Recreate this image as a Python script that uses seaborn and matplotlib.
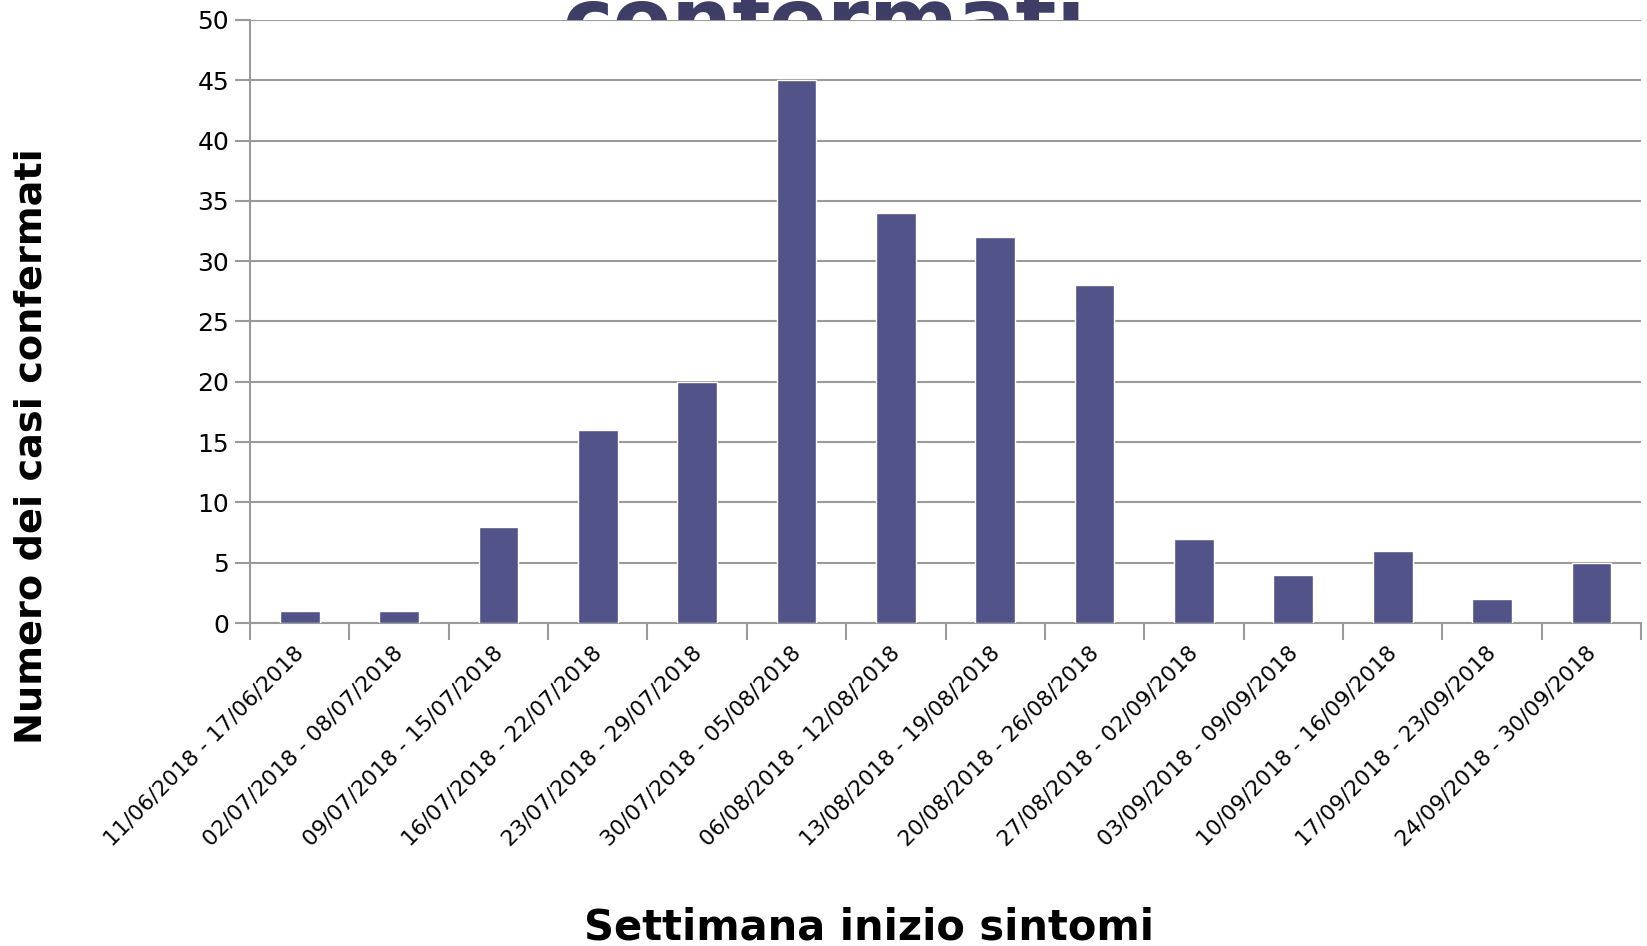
import matplotlib
matplotlib.use("Agg")
import matplotlib.pyplot as plt
import seaborn as sns
import numpy as np
import pandas as pd
from matplotlib.ticker import FixedLocator

weeks = [
    "11/06/2018 - 17/06/2018", "02/07/2018 - 08/07/2018", "09/07/2018 - 15/07/2018",
    "16/07/2018 - 22/07/2018", "23/07/2018 - 29/07/2018", "30/07/2018 - 05/08/2018",
    "06/08/2018 - 12/08/2018", "13/08/2018 - 19/08/2018", "20/08/2018 - 26/08/2018",
    "27/08/2018 - 02/09/2018", "03/09/2018 - 09/09/2018", "10/09/2018 - 16/09/2018",
    "17/09/2018 - 23/09/2018", "24/09/2018 - 30/09/2018",
]
cases = [1, 1, 8, 16, 20, 45, 34, 32, 28, 7, 4, 6, 2, 5]
y_ticks = [0, 5, 10, 15, 20, 25, 30, 35, 40, 45, 50]

sns.set_theme(style="white")
plt.rcParams['font.family'] = ['DejaVu Sans']
plt.rcParams['text.color'] = 'black'
plt.rcParams['xtick.color'] = 'black'
plt.rcParams['ytick.color'] = 'black'

df = pd.DataFrame({"week": weeks, "cases": cases})

fig = plt.figure(figsize=(16.47, 9.46), dpi=100)
ax = fig.add_axes([0.1518, 0.3414, 0.9964 - 0.1518, 0.9789 - 0.3414])
ax.set_facecolor("white")

grid_c = "#9a9a9a"
sns.barplot(data=df, x="week", y="cases", color="#525388", width=0.4,
            saturation=1, ax=ax, zorder=3)

ax.set_ylim(0, 50)
ax.set_xlim(-0.5, len(weeks) - 0.5)
ax.set_yticks(y_ticks)
ax.set_yticklabels([str(v) for v in y_ticks], fontsize=18, color="black")
for v in y_ticks:
    ax.axhline(v, color=grid_c, lw=1.5, zorder=1)

# label anchors nudged slightly left of the bar centres (major ticks are invisible)
ax.set_xticks(np.arange(len(weeks)) - 0.06)
ax.set_xticklabels(weeks, rotation=45, ha="right", rotation_mode="anchor",
                   fontsize=15.7, color="black")
ax.xaxis.set_minor_locator(FixedLocator(np.arange(-0.5, len(weeks), 1.0)))
ax.tick_params(axis="x", which="major", length=0, pad=14)
ax.tick_params(axis="x", which="minor", length=12, width=1.5, color=grid_c, direction="out", bottom=True)
ax.tick_params(axis="y", which="major", length=11, width=1.5, color=grid_c, direction="out", left=True, pad=4)

for s in ["top", "right"]:
    ax.spines[s].set_visible(False)
for s in ["left", "bottom"]:
    ax.spines[s].set_color(grid_c)
    ax.spines[s].set_linewidth(1.5)

ax.set_xlabel("")
ax.set_ylabel("")
fig.text(0.019, 0.5285, "Numero dei casi confermati", rotation=90, fontsize=27.5,
         fontweight="bold", ha="center", va="center", color="black")
fig.text(0.5276, 0.02, "Settimana inizio sintomi", fontsize=30,
         fontweight="bold", ha="center", va="center", color="black")
fig.text(0.5006, 0.948, "confermati", fontsize=61.5, fontweight="bold",
         color="#3d3d66", ha="center", va="baseline", zorder=-1)

fig.savefig("out.png", dpi=100, facecolor="white")
